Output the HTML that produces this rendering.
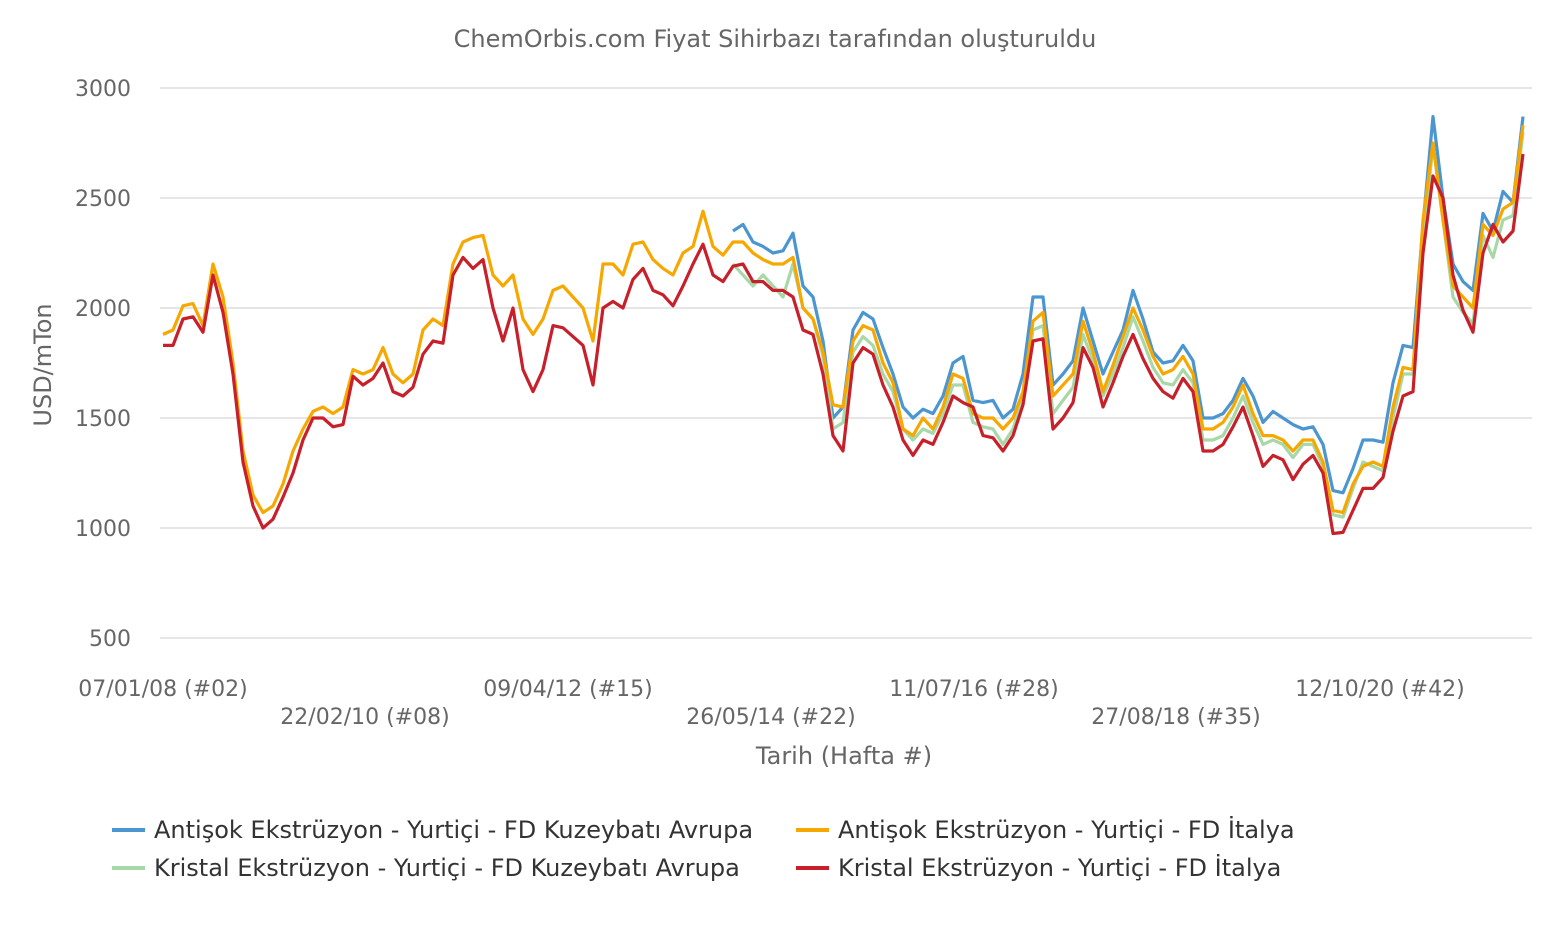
<!DOCTYPE html>
<html><head><meta charset="utf-8"><style>
body{margin:0;background:#fff;font-family:"Liberation Sans","DejaVu Sans",sans-serif}
svg text{font-family:"DejaVu Sans","Liberation Sans",sans-serif}
</style></head><body>
<svg id="chart" width="1552" height="930" viewBox="0 0 1552 930" xmlns="http://www.w3.org/2000/svg">
<text x="775" y="47" text-anchor="middle" font-size="24" fill="#666">ChemOrbis.com Fiyat Sihirbazı tarafından oluşturuldu</text>
<g id="grid"></g>
<g id="yticks"></g>
<g id="xticks"></g>
<text transform="translate(51,365) rotate(-90)" text-anchor="middle" font-size="24" fill="#666">USD/mTon</text>
<text x="844" y="764" text-anchor="middle" font-size="24" fill="#666">Tarih (Hafta #)</text>
<g id="series"></g>
<g font-size="24" fill="#333">
 <g><line x1="112" y1="830" x2="145" y2="830" stroke="#4b96d1" stroke-width="4"/><text x="154" y="838">Antişok Ekstrüzyon - Yurtiçi - FD Kuzeybatı Avrupa</text></g>
 <g><line x1="796" y1="830" x2="829" y2="830" stroke="#f7a800" stroke-width="4"/><text x="838" y="838">Antişok Ekstrüzyon - Yurtiçi - FD İtalya</text></g>
 <g><line x1="112" y1="868" x2="145" y2="868" stroke="#a8d8a8" stroke-width="4"/><text x="154" y="876">Kristal Ekstrüzyon - Yurtiçi - FD Kuzeybatı Avrupa</text></g>
 <g><line x1="796" y1="868" x2="829" y2="868" stroke="#c8202a" stroke-width="4"/><text x="838" y="876">Kristal Ekstrüzyon - Yurtiçi - FD İtalya</text></g>
</g>
</svg>
<script>
const yTicks=[3000,2500,2000,1500,1000,500];
const xTickLabels=["07/01/08 (#02)","22/02/10 (#08)","09/04/12 (#15)","26/05/14 (#22)","11/07/16 (#28)","27/08/18 (#35)","12/10/20 (#42)"];
const xTickIndex=[0,20.2,40.5,60.8,81.1,101.3,121.7];
const red=[1830,1830,1950,1960,1890,2150,1980,1700,1300,1100,1000,1040,1140,1250,1400,1500,1500,1460,1470,1690,1650,1680,1750,1620,1600,1640,1790,1850,1840,2150,2230,2180,2220,2000,1850,2000,1720,1620,1720,1920,1910,1870,1830,1650,2000,2030,2000,2130,2180,2080,2060,2010,2100,2200,2290,2150,2120,2190,2200,2120,2120,2080,2080,2050,1900,1880,1700,1420,1350,1750,1820,1790,1650,1550,1400,1330,1400,1380,1480,1600,1570,1550,1420,1410,1350,1420,1560,1850,1860,1450,1500,1570,1820,1730,1550,1660,1780,1880,1770,1680,1620,1590,1680,1620,1350,1350,1380,1460,1550,1420,1280,1330,1310,1220,1290,1330,1250,975,980,1080,1180,1180,1230,1440,1600,1620,2250,2600,2500,2150,1990,1890,2250,2380,2300,2350,2700];
const orange=[1880,1900,2010,2020,1920,2200,2050,1750,1350,1150,1070,1100,1200,1350,1450,1530,1550,1520,1550,1720,1700,1720,1820,1700,1660,1700,1900,1950,1920,2200,2300,2320,2330,2150,2100,2150,1950,1880,1950,2080,2100,2050,2000,1850,2200,2200,2150,2290,2300,2220,2180,2150,2250,2280,2440,2280,2240,2300,2300,2250,2220,2200,2200,2230,2000,1950,1800,1560,1550,1850,1920,1900,1750,1660,1450,1420,1500,1450,1550,1700,1680,1520,1500,1500,1450,1500,1620,1940,1980,1600,1650,1700,1940,1800,1620,1740,1870,2000,1900,1780,1700,1720,1780,1700,1450,1450,1480,1550,1650,1520,1420,1420,1400,1350,1400,1400,1300,1080,1070,1200,1280,1300,1280,1550,1730,1720,2400,2750,2400,2100,2050,2000,2380,2330,2450,2480,2830];
const blue=[null,null,null,null,null,null,null,null,null,null,null,null,null,null,null,null,null,null,null,null,null,null,null,null,null,null,null,null,null,null,null,null,null,null,null,null,null,null,null,null,null,null,null,null,null,null,null,null,null,null,null,null,2300,null,null,null,null,2350,2380,2300,2280,2250,2260,2340,2100,2050,1850,1500,1550,1900,1980,1950,1820,1700,1550,1500,1540,1520,1600,1750,1780,1580,1570,1580,1500,1540,1700,2050,2050,1650,1700,1760,2000,1850,1700,1800,1900,2080,1950,1800,1750,1760,1830,1760,1500,1500,1520,1580,1680,1600,1480,1530,1500,1470,1450,1460,1380,1170,1160,1270,1400,1400,1390,1660,1830,1820,2380,2870,2500,2200,2120,2080,2430,2350,2530,2480,2870];
const green=[null,null,null,null,null,null,null,null,null,null,null,null,null,null,null,null,null,null,null,null,null,null,null,null,null,null,null,null,null,null,null,null,null,null,null,null,null,null,null,null,null,null,null,null,null,null,null,null,null,null,null,null,null,null,null,null,null,2200,2150,2100,2150,2100,2050,2200,2000,1950,1780,1450,1480,1800,1870,1830,1700,1620,1450,1400,1450,1430,1520,1650,1650,1480,1460,1450,1380,1450,1600,1900,1920,1520,1580,1640,1880,1760,1600,1700,1820,1960,1850,1730,1660,1650,1720,1660,1400,1400,1420,1500,1600,1480,1380,1400,1380,1320,1380,1380,1280,1060,1050,1180,1300,1280,1260,1500,1700,1700,2300,2740,2400,2050,1980,1930,2330,2230,2400,2420,2800];
const NS="http://www.w3.org/2000/svg";
const N=red.length;
function xs(i){return 163+(i*(1523-163))/(N-1);}
function ys(v){return 88+(3000-v)*0.22;}
const grid=document.getElementById('grid'),yt=document.getElementById('yticks'),xt=document.getElementById('xticks'),sg=document.getElementById('series');
yTicks.forEach(v=>{
 const l=document.createElementNS(NS,'line');
 
 
 l.setAttribute('x1',160);l.setAttribute('x2',1532);l.setAttribute('y1',ys(v));l.setAttribute('y2',ys(v));
 l.setAttribute('stroke','#dedede');l.setAttribute('stroke-width','1.5');grid.appendChild(l);
 const t=document.createElementNS(NS,'text');
 
 
 t.setAttribute('x',131);t.setAttribute('y',ys(v)+8);t.setAttribute('text-anchor','end');t.setAttribute('font-size','22');t.setAttribute('fill','#666');
 t.textContent=v;yt.appendChild(t);
});
xTickLabels.forEach((s,k)=>{
 const t=document.createElementNS(NS,'text');
 
 
 t.setAttribute('x',xs(xTickIndex[k]));t.setAttribute('y',k%2?724:696);t.setAttribute('text-anchor','middle');t.setAttribute('font-size','22');t.setAttribute('fill','#666');
 t.textContent=s;xt.appendChild(t);
});
function draw(arr,color,name){
 let d='',pen=false;
 arr.forEach((v,i)=>{
  if(v==null){pen=false;return;}
  d+=(pen?'L':'M')+xs(i).toFixed(1)+' '+ys(v).toFixed(1)+' ';pen=true;
 });
 const p=document.createElementNS(NS,'path');
 
 
 p.setAttribute('d',d);p.setAttribute('fill','none');p.setAttribute('stroke',color);p.setAttribute('stroke-width','3.2');p.setAttribute('stroke-linejoin','round');
 sg.appendChild(p);
}
draw(blue,'#4b96d1','series-antisok-nw-europe');
draw(green,'#a8d8a8','series-kristal-nw-europe');
draw(orange,'#f7a800','series-antisok-italy');
draw(red,'#c8202a','series-kristal-italy');
</script>
</body></html>
